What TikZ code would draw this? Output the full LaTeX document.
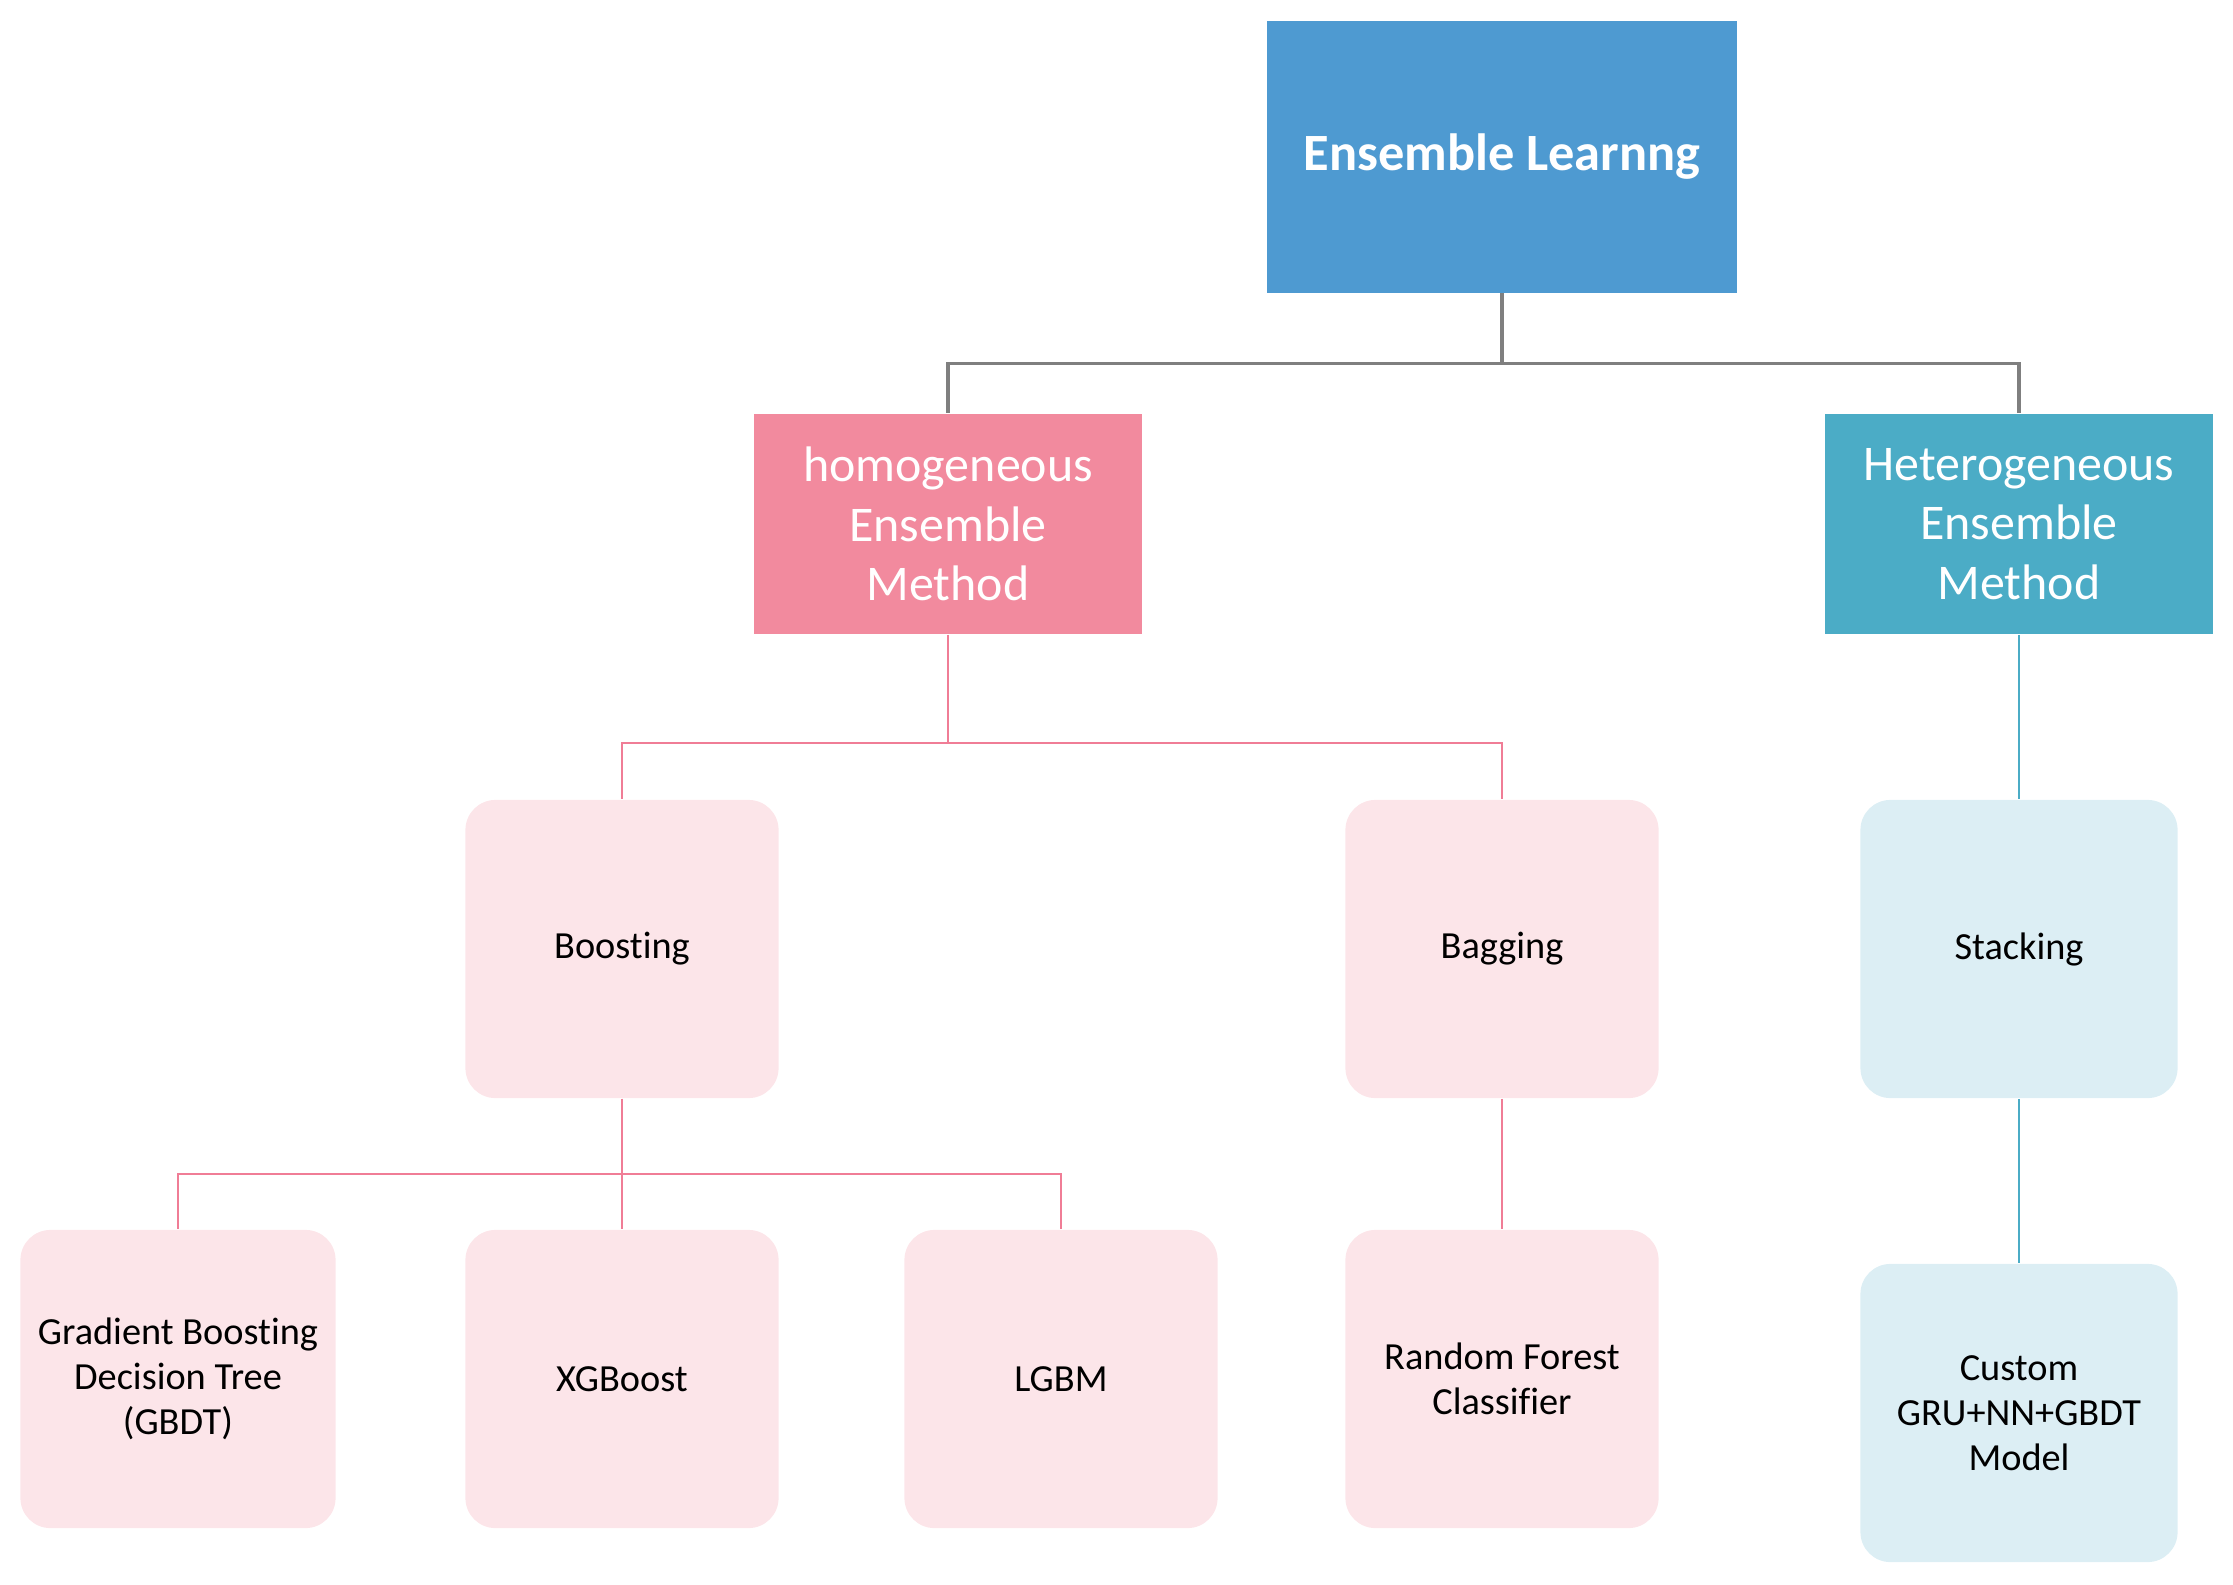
\documentclass[tikz,border=0pt]{standalone}
\usepackage{fontspec}
\setmainfont{Carlito}[RawFeature=-liga]
\usepackage{xcolor}
\usetikzlibrary{positioning}

\definecolor{rootblue}{HTML}{4E9AD1}
\definecolor{homopink}{HTML}{F28A9E}
\definecolor{heteroteal}{HTML}{4BACC6}
\definecolor{lightpink}{HTML}{FCE5E9}
\definecolor{lightblue}{HTML}{DCEEF4}
\definecolor{linegray}{HTML}{7F7F7F}
\definecolor{linepink}{HTML}{F07D96}

\begin{document}
\begin{tikzpicture}[
  x=0.01cm, y=-0.01cm,
  rootbox/.style={fill=rootblue, minimum width=4.7cm, minimum height=2.71cm, font=\bfseries\fontsize{14.9}{17}\selectfont, text=white, align=center, inner sep=0pt},
  familybox/.style={minimum width=3.87cm, minimum height=2.2cm, font=\fontsize{14.2}{17}\selectfont, text=white, align=center, inner sep=0pt},
  leafbox/.style={rounded corners=0.3cm, minimum width=3.13cm, minimum height=2.98cm, font=\fontsize{10.9}{12.8}\selectfont, align=center, inner sep=0pt},
  pinkleaf/.style={leafbox, fill=lightpink},
  blueleaf/.style={leafbox, fill=lightblue, minimum width=3.17cm},
  grayline/.style={draw=linegray, line width=0.9pt},
  pinkline/.style={draw=linepink, line width=0.7pt},
  tealline/.style={draw=heteroteal, line width=0.7pt}
]
\useasboundingbox (0,0) rectangle (2233,1585);

% --- top level ---
\node[rootbox] (root) at (1502,157) {Ensemble Learnng};

% --- method families ---
\node[familybox, fill=homopink] (homo) at (948,524) {homogeneous\\Ensemble\\Method};
\node[familybox, fill=heteroteal] (hetero) at (2019,524) {Heterogeneous\\Ensemble\\Method};

% --- second level ---
\node[pinkleaf] (boost) at (622,949) {Boosting};
\node[pinkleaf] (bag) at (1502,949) {Bagging};
\node[blueleaf] (stack) at (2019,949) {Stacking};

% --- leaves ---
\node[pinkleaf, minimum width=3.15cm] (gbdt) at (178,1379) {Gradient Boosting\\Decision Tree\\(GBDT)};
\node[pinkleaf] (xgb) at (622,1379) {XGBoost};
\node[pinkleaf] (lgbm) at (1061,1379) {LGBM};
\node[pinkleaf] (rf) at (1502,1379) {Random Forest\\Classifier};
\node[blueleaf] (custom) at (2019,1413) {Custom\\GRU+NN+GBDT\\Model};

% --- connectors ---
\draw[grayline] (root.south) -- ++(0,70) -| (homo.north);
\draw[grayline] (root.south) -- ++(0,70) -| (hetero.north);

\draw[pinkline] (homo.south) -- ++(0,108) -| (boost.north);
\draw[pinkline] (homo.south) -- ++(0,108) -| (bag.north);
\draw[tealline] (hetero.south) -- (stack.north);

\foreach \leaf in {gbdt, xgb, lgbm} {
  \draw[pinkline] (boost.south) -- ++(0,75) -| (\leaf.north);
}
\draw[pinkline] (bag.south) -- (rf.north);
\draw[tealline] (stack.south) -- (custom.north);

\end{tikzpicture}
\end{document}
